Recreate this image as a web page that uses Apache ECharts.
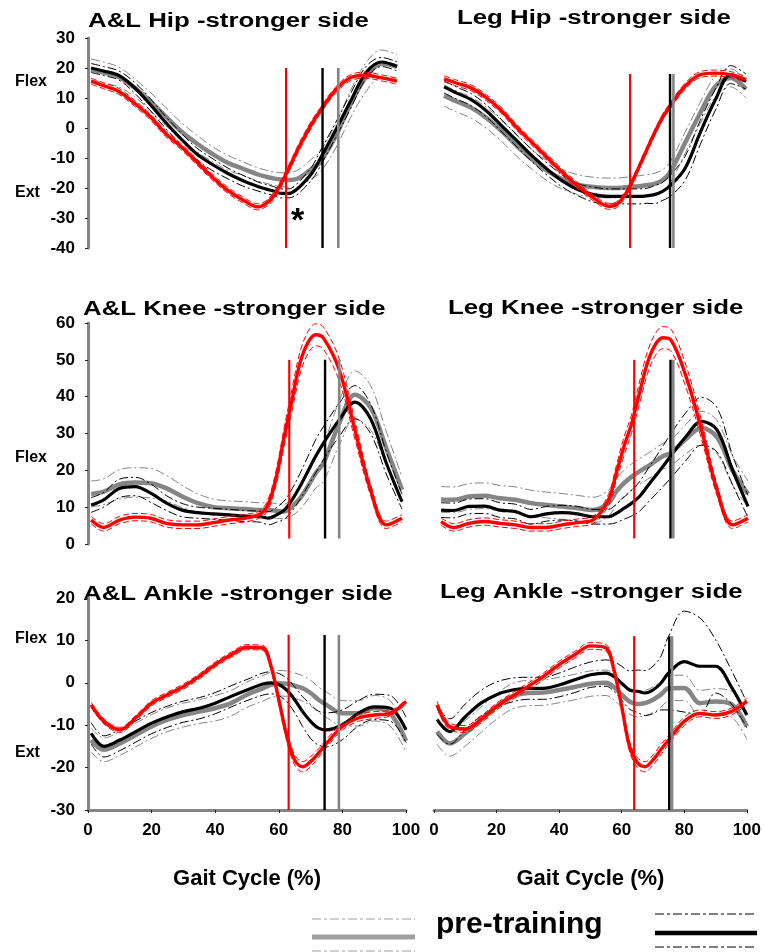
<!DOCTYPE html>
<html>
<head>
<meta charset="utf-8">
<script src="https://cdn.jsdelivr.net/npm/echarts@6/dist/echarts.min.js"></script>
<style>
  html, body { margin: 0; padding: 0; background: #fff; }
  #chart { width: 764px; height: 952px; }
</style>
</head>
<body>
<div id="chart"></div>
<script>
// gait cycle sample points (%)
const gaitPct = [1, 5, 10, 15, 20, 25, 30, 35, 40, 45, 50, 55, 57.5, 60, 62.5, 65, 67.5, 70, 72.5, 75, 80, 85, 90, 95, 100]

// pre = grey, post = black, ref = red ; *Sd = half width of the dash-dot band
// A&L hip
const hipAL_pre = [19.5, 18.5, 17, 13.5, 9, 4, -1, -5, -8.5, -11.5, -13.5, -15.5, -16.2, -16.8, -17.2, -17.3, -17, -15.5, -13.5, -11.5, -3, 8, 17, 21.5, 20.5]
const hipAL_preSd = [3.5, 3.5, 3.3, 3, 3, 3, 3, 2.8, 2.5, 2.5, 2.3, 2.2, 2.2, 2.2, 2.3, 2.5, 2.8, 3, 3.3, 3.5, 4, 4.5, 4.8, 4.5, 4]
const hipAL_post = [20, 19, 17.5, 13.5, 8, 2, -3.5, -8.5, -12, -15, -17.5, -19.5, -20.3, -21, -21.8, -21.8, -20.5, -18, -15, -10.5, -1, 9, 18.5, 22, 20.5]
const hipAL_postSd = [1.5, 1.5, 1.5, 1.8, 2, 2, 2, 2, 2, 1.8, 1.8, 1.5, 1.5, 1.5, 1.5, 1.5, 1.8, 2, 2.2, 2.5, 2.5, 2.5, 2, 1.5, 1.5]
const hipAL_ref = [15.6, 14.1, 12.2, 8.3, 3.9, -1.7, -6.1, -11.1, -16.1, -20.6, -23.9, -26.3, -25.3, -22.8, -18.5, -13.5, -8, -3, 1.5, 5.5, 12.5, 16.8, 17.6, 16.7, 15.6]
const hipAL_refSd = [1, 1, 1, 1, 1, 1, 1, 1, 1, 1, 1, 1, 1, 1.2, 1.2, 1.2, 1.2, 1.2, 1.2, 1, 1, 1, 1, 1, 1]
const hipAL_events = [64.1, 75.9, 81]
const hipAL_eventSpan = [20, -40]

// Leg hip
const hipLeg_pre = [10.8, 8.9, 6.7, 3.3, -1.1, -6.1, -10.6, -14.4, -17.2, -18.9, -19.7, -20, -20, -19.8, -19.6, -19.4, -19, -18.6, -17.5, -15, -5, 5, 13.9, 16.7, 13]
const hipLeg_preSd = [3.5, 3.5, 3.5, 3.5, 3.5, 3.5, 3.3, 3.3, 3.3, 3.3, 3.3, 3.3, 3.3, 3.3, 3.5, 3.5, 3.5, 3.5, 3.5, 3.5, 3.5, 3.5, 3.5, 3, 3]
const hipLeg_post = [13.7, 11.7, 9.4, 5.6, 0.6, -4.4, -9.4, -13.9, -17.8, -20.6, -22.2, -22.8, -22.8, -22.8, -22.8, -22.8, -22.6, -22.2, -21.2, -19.4, -13.5, -1.5, 9.5, 17.8, 15.5]
const hipLeg_postSd = [2, 2, 2, 2, 2, 2, 2, 2, 2, 2, 2.5, 2.5, 2.5, 2.5, 2.5, 2.5, 2.5, 3, 3, 3.5, 4, 4, 3.5, 3, 2.5]
const hipLeg_ref = [16.4, 15, 13.3, 10, 5.6, 0, -5, -10, -15, -19.4, -23.3, -26.1, -25.6, -22.8, -18.3, -12.8, -7.2, -1.7, 3.3, 7.2, 13.9, 17.8, 18.3, 17.8, 16.1]
const hipLeg_refSd = [1, 1, 1, 1, 1, 1, 1, 1, 1, 1, 1, 1, 1, 1, 1, 1, 1, 1, 1, 1, 1, 1, 1, 1, 1]
const hipLeg_events = [62, 75.1, 76.2]
const hipLeg_eventSpan = [18, -40]

// A&L knee
const kneeAL_pre = [13.6, 14.2, 16.2, 16.7, 16.5, 15.1, 12.9, 11.1, 10, 9.7, 9.5, 9.2, 9.2, 9, 8.8, 10.2, 12.4, 15.6, 19.2, 22, 32.8, 40.5, 37, 26, 14.7]
const kneeAL_preSd = [3.5, 3.5, 4, 4, 4, 3.5, 3, 2.5, 2.2, 2, 2, 2, 2, 2, 2, 2.5, 3, 3.5, 4, 5, 6, 6.5, 6, 4.5, 3.5]
const kneeAL_post = [10.6, 12, 15.1, 15.6, 13.8, 11.1, 9.2, 8.5, 8.2, 7.9, 7.6, 7.4, 7, 7.9, 9.2, 12, 15.6, 19.7, 23.8, 27.4, 33.7, 38.5, 34, 22, 11.5]
const kneeAL_postSd = [2, 2, 2.5, 2.5, 2.5, 2, 1.8, 1.5, 1.5, 1.5, 1.5, 1.5, 1.8, 2, 2.5, 3, 3.5, 4, 4.5, 4.5, 4.5, 4.5, 4, 3, 2]
const kneeAL_ref = [6.5, 4.5, 6.5, 7.3, 7, 5.6, 5.2, 5.2, 5.8, 6.5, 7, 8.2, 11, 18.3, 29.2, 39.2, 49.1, 54.6, 56.8, 55.9, 47.3, 31, 14.7, 5.2, 7]
const kneeAL_refSd = [1, 1, 1, 1, 1, 1, 1, 1, 1, 1, 1, 1, 1.5, 2, 2.5, 3, 3, 3, 3, 3, 3, 2.5, 1.5, 1, 1]
const kneeAL_events = [64.1, 75.5, 80]
const kneeAL_eventSpan = [50, 1.5]

// Leg knee
const kneeLeg_pre = [12.1, 12, 12.9, 13.1, 12.4, 12, 11.1, 10.6, 10.2, 9.7, 9.2, 11.1, 14.2, 16.5, 18.3, 19.7, 21, 22.4, 23.8, 24.7, 28.5, 31.5, 29, 20, 13.6]
const kneeLeg_preSd = [3.5, 3.5, 3.5, 3.5, 3.5, 3.5, 3.5, 3.5, 3.5, 3.5, 3.5, 3.5, 3.5, 3.5, 3.5, 3.5, 3.5, 3.5, 3.5, 3.5, 4, 4.5, 4.5, 4, 3.5]
const kneeLeg_post = [9.2, 9.1, 10.2, 10.3, 9.2, 8.8, 7.4, 8.2, 8.5, 8.2, 7.4, 7.4, 8.3, 9.7, 11.1, 12.9, 15.6, 18.3, 21, 23.8, 29.2, 33.3, 31, 20.1, 10.2]
const kneeLeg_postSd = [2, 2, 2, 2, 2, 2, 2, 2, 2, 2, 2, 2, 2.5, 3, 3.5, 4, 4.5, 5, 5.5, 6, 6.5, 6.5, 6, 4, 3]
const kneeLeg_ref = [6.1, 4.5, 5.6, 6.1, 5.6, 5.2, 4.5, 4.5, 5.2, 5.8, 6.5, 12, 19.2, 26.5, 32.8, 41, 49, 54, 56, 55.5, 45.5, 31, 14.7, 5.2, 7]
const kneeLeg_refSd = [1, 1, 1, 1, 1, 1, 1, 1, 1, 1, 1, 1.5, 2, 2.5, 2.5, 3, 3, 3, 3, 3, 3, 2.5, 1.5, 1, 1]
const kneeLeg_events = [63.3, 75, 75.9]
const kneeLeg_eventSpan = [50, 1.5]

// A&L ankle
const ankleAL_pre = [-13.5, -15.8, -14.3, -12.3, -10.3, -8.7, -7.6, -6.8, -6, -4.8, -2.8, -1.3, -0.5, -0.1, -0.2, -0.7, -1.3, -2.4, -4, -5.2, -7.2, -7.2, -6, -7.2, -13.7]
const ankleAL_preSd = [2.8, 2.8, 2.8, 2.8, 2.8, 2.8, 2.8, 2.8, 3, 3, 3, 3, 3, 3, 3, 3, 3, 3, 3, 3, 3, 3, 3, 3, 2.5]
const ankleAL_post = [-11.9, -15, -13.5, -11.5, -9.5, -8, -6.8, -6, -4.8, -3.2, -1.7, -0.3, 0, -0.4, -1.7, -4, -6.8, -9.1, -10.7, -11.1, -9.9, -7.2, -5.7, -6, -11.1]
const ankleAL_postSd = [2.5, 2.5, 2.5, 2.5, 2.5, 2.5, 2.5, 2.5, 2.5, 2.5, 2.5, 2.6, 2.6, 2.6, 2.8, 3, 3.5, 4, 4, 4, 3.5, 3, 3, 3, 3]
const ankleAL_ref = [-5.2, -9.1, -11.1, -8.3, -4.8, -2.8, -0.9, 1.5, 4.3, 6.6, 8.4, 8.2, 4, -4, -12.5, -18.2, -19.8, -18.6, -16.6, -14.3, -10.3, -8.3, -7.6, -7.2, -4.4]
const ankleAL_refSd = [0.6, 0.6, 0.6, 0.6, 0.6, 0.6, 0.6, 0.6, 0.6, 0.6, 0.6, 0.6, 0.8, 1, 1.2, 1.2, 1.2, 1.2, 1, 1, 0.8, 0.8, 0.8, 0.6, 0.6]
const ankleAL_events = [63.1, 74.4, 78.9]
const ankleAL_eventSpan = [11.3, -30]

// Leg ankle
const ankleLeg_pre = [-11.5, -14.3, -11.9, -8.7, -5.6, -3.2, -2.4, -2.3, -1.7, -1, -0.2, 0, -1, -2.8, -4.4, -5, -4.8, -4, -2.8, -1.3, -1.2, -4.8, -4.4, -5, -10.3]
const ankleLeg_preSd = [3, 3, 3, 3, 3, 3, 3, 3, 3, 3, 3, 3, 3, 3, 3, 3, 3, 3, 3, 3, 3, 3, 3, 3, 3]
const ankleLeg_post = [-8.7, -11.5, -8, -4.8, -2.8, -1.7, -1.3, -1.3, -0.5, 0.7, 1.9, 2.3, 1.5, -0.1, -1.7, -2, -2.4, -1.7, -0.1, 2.3, 5, 3.9, 3.9, -0.9, -7.6]
const ankleLeg_postSd = [3.5, 3, 3, 3, 3, 2.8, 2.6, 2.6, 2.8, 3, 3, 3.1, 3.5, 4, 4.5, 5, 5.3, 5.6, 6.3, 8.7, 11.9, 11.4, 6.3, 4, 3]
const ankleLeg_ref = [-5.2, -10.3, -10.9, -8.7, -5.6, -3.2, -0.9, 1.5, 4.3, 6.6, 8.7, 8.2, 3.1, -5.6, -15, -18.8, -19.8, -18.2, -15.8, -13.5, -9.1, -7.2, -7.6, -6.8, -4.4]
const ankleLeg_refSd = [0.8, 0.8, 0.8, 0.8, 0.8, 0.8, 0.8, 0.8, 0.8, 0.8, 0.8, 0.8, 1, 1, 1.2, 1.2, 1.2, 1.2, 1.2, 1, 1, 0.8, 0.8, 0.8, 0.8]
const ankleLeg_events = [64, 75.2, 76.1]
const ankleLeg_eventSpan = [11, -30]

// y ranges per row
const hipRange = [-40, 30]
const kneeRange = [0, 60]
const ankleRange = [-30, 20]

const panels = [
    { title: 'A&L Hip -stronger side', pre: hipAL_pre, preSd: hipAL_preSd, post: hipAL_post, postSd: hipAL_postSd, ref: hipAL_ref, refSd: hipAL_refSd, events: hipAL_events, span: hipAL_eventSpan, range: hipRange },
    { title: 'Leg Hip -stronger side', pre: hipLeg_pre, preSd: hipLeg_preSd, post: hipLeg_post, postSd: hipLeg_postSd, ref: hipLeg_ref, refSd: hipLeg_refSd, events: hipLeg_events, span: hipLeg_eventSpan, range: hipRange },
    { title: 'A&L Knee -stronger side', pre: kneeAL_pre, preSd: kneeAL_preSd, post: kneeAL_post, postSd: kneeAL_postSd, ref: kneeAL_ref, refSd: kneeAL_refSd, events: kneeAL_events, span: kneeAL_eventSpan, range: kneeRange },
    { title: 'Leg Knee -stronger side', pre: kneeLeg_pre, preSd: kneeLeg_preSd, post: kneeLeg_post, postSd: kneeLeg_postSd, ref: kneeLeg_ref, refSd: kneeLeg_refSd, events: kneeLeg_events, span: kneeLeg_eventSpan, range: kneeRange },
    { title: 'A&L Ankle -stronger side', pre: ankleAL_pre, preSd: ankleAL_preSd, post: ankleAL_post, postSd: ankleAL_postSd, ref: ankleAL_ref, refSd: ankleAL_refSd, events: ankleAL_events, span: ankleAL_eventSpan, range: ankleRange },
    { title: 'Leg Ankle -stronger side', pre: ankleLeg_pre, preSd: ankleLeg_preSd, post: ankleLeg_post, postSd: ankleLeg_postSd, ref: ankleLeg_ref, refSd: ankleLeg_refSd, events: ankleLeg_events, span: ankleLeg_eventSpan, range: ankleRange }
]

// layout of the six plots (px)
const grids = [
    { left: 88, top: 38, width: 309, height: 210 },
    { left: 441, top: 38, width: 305, height: 210 },
    { left: 88, top: 323, width: 314, height: 221 },
    { left: 438, top: 323, width: 310, height: 221 },
    { left: 88, top: 598, width: 318, height: 212 },
    { left: 434, top: 598, width: 314, height: 212 }
]
const titlePos = [[88, 21], [457, 18], [83, 309], [448, 308], [83, 594], [440, 592]]

const GREY = '#858585'
const FONT = 'Liberation Sans, Arial, sans-serif'
const DASHDOT = [9, 3, 2, 3]

const curve = (mean) => gaitPct.map((x, i) => [x, mean[i]])
const band = (mean, sd, sign) => gaitPct.map((x, i) => [x, +(mean[i] + sign * sd[i]).toFixed(2)])

const getSeries = () => {
    let series = []
    panels.forEach((p, k) => {
        const base = { type: 'line', xAxisIndex: k, yAxisIndex: k, symbol: 'none', silent: true, animation: false }
        const groups = [
            { mean: p.pre, sd: p.preSd, color: GREY, w: 4.5, sdType: DASHDOT },
            { mean: p.post, sd: p.postSd, color: '#000', w: 3.2, sdType: DASHDOT },
            { mean: p.ref, sd: p.refSd, color: '#ff0000', w: 3.4, sdType: [6, 3] }
        ]
        groups.forEach((g) => {
            // band edges
            ;[1, -1].forEach((s) => {
                series.push(Object.assign({}, base, {
                    data: band(g.mean, g.sd, s),
                    smooth: 0.35,
                    lineStyle: { color: g.color, width: 1, type: g.sdType }
                }))
            })
            // mean
            series.push(Object.assign({}, base, {
                data: curve(g.mean),
                smooth: 0.35,
                lineStyle: { color: g.color, width: g.w }
            }))
        })
        // event lines: red, black, grey
        const evColors = ['#ff0000', '#000', GREY]
        const evWidth = [2.2, 2.4, 2.6]
        ;[2, 1, 0].forEach((j) => {
            series.push(Object.assign({}, base, {
                data: [[p.events[j], p.span[0]], [p.events[j], p.span[1]]],
                lineStyle: { color: evColors[j], width: evWidth[j] }
            }))
        })
    })
    return series
}

const label = (text, x, y, size, extra) => Object.assign({
    type: 'text', x: x, y: y,
    style: { text: text, font: 'bold ' + size + 'px ' + FONT, fill: '#000', textAlign: 'left', textVerticalAlign: 'middle' }
}, extra || {})

const hline = (x1, x2, y, color, w, dash) => ({
    type: 'line', shape: { x1: x1, y1: y, x2: x2, y2: y },
    style: { stroke: color, lineWidth: w, lineDash: dash || null }
})

const chart = echarts.init(document.getElementById('chart'), null, { renderer: 'canvas' })

const options = {
    backgroundColor: '#fff',
    animation: false,
    grid: grids.map((g) => Object.assign({}, g, { containLabel: false })),
    xAxis: grids.map((g, k) => ({
        gridIndex: k,
        type: 'value',
        min: 0,
        max: 100,
        interval: 20,
        show: k >= 4,
        name: k >= 4 ? 'Gait Cycle (%)' : '',
        nameLocation: 'middle',
        nameGap: 58,
        nameTextStyle: { fontFamily: FONT, fontWeight: 'bold', fontSize: 22, color: '#000' },
        axisLine: { show: true, onZero: false, lineStyle: { color: GREY, width: 3 } },
        axisTick: { show: true, length: 3, lineStyle: { color: '#222', width: 1 } },
        axisLabel: { fontFamily: FONT, fontWeight: 'bold', fontSize: 17, color: '#000', margin: 12 },
        splitLine: { show: false }
    })),
    yAxis: panels.map((p, k) => ({
        gridIndex: k,
        type: 'value',
        min: p.range[0],
        max: p.range[1],
        interval: 10,
        show: k % 2 === 0,
        axisLine: { show: true, lineStyle: { color: GREY, width: 3 } },
        axisTick: { show: true, length: 3, lineStyle: { color: '#222', width: 1 } },
        axisLabel: { fontFamily: FONT, fontWeight: 'bold', fontSize: 17, color: '#000', margin: 13 },
        splitLine: { show: false }
    })),
    series: getSeries(),
    graphic: [
        ...panels.map((p, k) => label(p.title, titlePos[k][0], titlePos[k][1], 20, { scaleX: 1.29 })),
        label('Flex', 15, 82, 16),
        label('Ext', 15, 193, 16),
        label('Flex', 15, 458, 16),
        label('Flex', 15, 639, 16),
        label('Ext', 15, 753, 16),
        label('*', 291, 222, 34),
        // legend samples
        hline(312, 415, 919, '#a0a0a0', 1.2, [9, 3, 3, 3]),
        hline(312, 415, 937, '#a0a0a0', 5),
        hline(312, 415, 951, '#a0a0a0', 1.2, [9, 3, 3, 3]),
        label('pre-training', 436, 925, 30),
        hline(655, 757, 914, '#000', 1.2, [9, 3, 3, 3]),
        hline(655, 757, 933, '#000', 4.5),
        hline(655, 757, 947, '#000', 1.2, [9, 3, 3, 3])
    ]
}

chart.setOption(options)
</script>
</body>
</html>
